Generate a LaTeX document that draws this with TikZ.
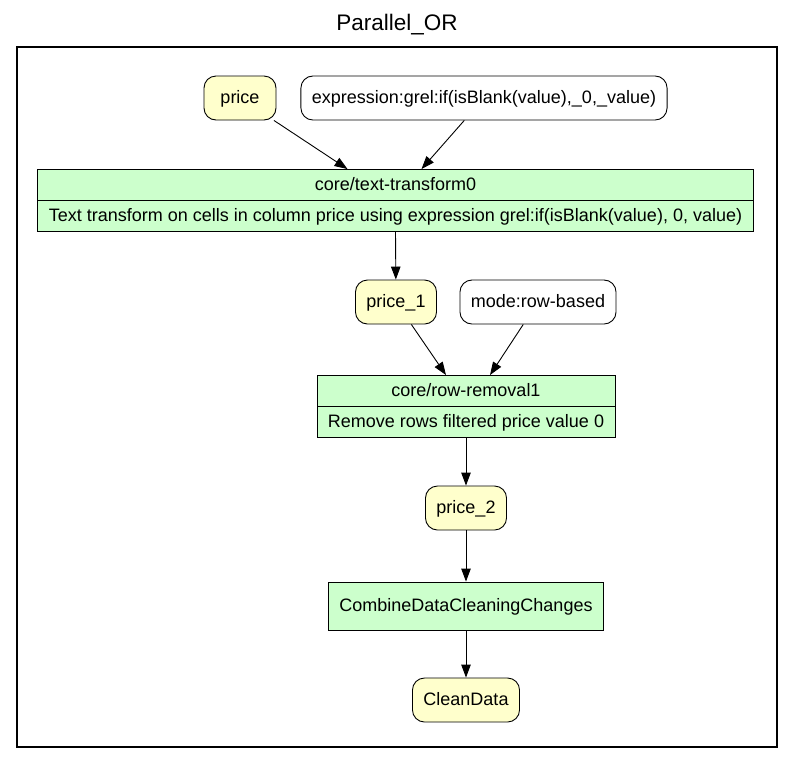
\documentclass[tikz,border=0pt]{standalone}
\usepackage{fontspec}
\setmainfont{Liberation Sans}
\usetikzlibrary{arrows.meta}
\definecolor{datayellow}{HTML}{FFFFCC}
\definecolor{stepgreen}{HTML}{CCFFCC}
\begin{document}
\begin{tikzpicture}[x=1pt,y=-1pt,->,>={Triangle[length=13pt,width=9.5pt]},line width=0.9pt,
  every node/.style={font=\fontsize{18}{21}\selectfont,text height=13.6pt,text depth=3pt},
  data node/.style={draw,fill=datayellow,rounded corners=12pt,minimum height=44pt,minimum width=72pt,inner xsep=11pt},
  param node/.style={draw,fill=white,rounded corners=12pt,minimum height=44pt,minimum width=72pt,inner xsep=11pt},
  step node/.style={draw,fill=stepgreen,minimum height=31pt,inner xsep=8pt}]

  \useasboundingbox (0,0) rectangle (792,764);
  \node[font=\fontsize{22.5}{26}\selectfont] (title) at (397,25) {Parallel\_OR};
  \draw[-,line width=2.4pt] (17,47) rectangle (777,747);

  \node[data node] (price) at (240,98) {price};
  \node[param node,minimum width=366pt] (expr) at (484,98) {expression:grel:if(isBlank(value),\_0,\_value)};
  \node[step node,minimum width=716pt] (tt0) at (395.5,185) {core/text-transform0};
  \node[step node,minimum width=716pt] (tt0d) at (395.5,216) {Text transform on cells in column price using expression grel:if(isBlank(value), 0, value)};
  \node[data node,minimum width=80pt] (price1) at (396,302) {price\_1};
  \node[param node,minimum width=156pt] (mode) at (538,302) {mode:row-based};
  \node[step node,minimum width=298pt] (rr1) at (466,391) {core/row-removal1};
  \node[step node,minimum width=298pt] (rr1d) at (466,422) {Remove rows filtered price value 0};
  \node[data node,minimum width=80pt] (price2) at (466,508) {price\_2};
  \node[step node,minimum width=275pt,minimum height=48pt] (combine) at (466,606) {CombineDataCleaningChanges};
  \node[data node,minimum width=107pt] (clean) at (466,700) {CleanData};

  \draw (price) -- ([xshift=-48pt]tt0.north);
  \draw (expr) -- ([xshift=26pt]tt0.north);
  \draw (tt0d.south) -- (price1);
  \draw (price1) -- ([xshift=-20pt]rr1.north);
  \draw (mode) -- ([xshift=24pt]rr1.north);
  \draw (rr1d.south) -- (price2);
  \draw (price2) -- (combine);
  \draw (combine) -- (clean);

\end{tikzpicture}
\end{document}
